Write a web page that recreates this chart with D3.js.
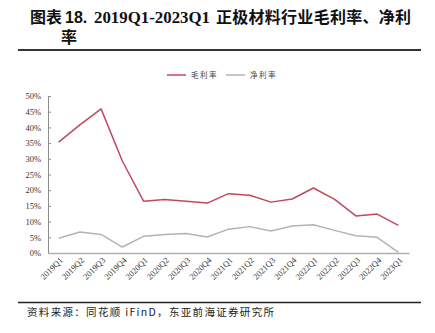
<!DOCTYPE html>
<html><head><meta charset="utf-8">
<script src="https://cdn.jsdelivr.net/npm/d3@7"></script>
<style>body{margin:0;background:#fff}svg{display:block}</style>
</head><body>
<script>
const categories = ["2019Q1","2019Q2","2019Q3","2019Q4","2020Q1","2020Q2","2020Q3","2020Q4","2021Q1","2021Q2","2021Q3","2021Q4","2022Q1","2022Q2","2022Q3","2022Q4","2023Q1"];
const grossMargin = [35.3, 40.8, 45.9, 29.3, 16.5, 17.0, 16.5, 15.9, 18.9, 18.4, 16.2, 17.2, 20.7, 17.1, 11.8, 12.4, 8.8];
const netMargin = [4.7, 6.7, 5.9, 1.9, 5.3, 5.9, 6.2, 5.1, 7.6, 8.4, 7.0, 8.6, 9.0, 7.2, 5.5, 5.0, 0.2];
const yTicks = [0,5,10,15,20,25,30,35,40,45,50];
const seriesNames = ["毛利率","净利率"];
const seriesColors = ["#bf4a5e","#b3b3b3"];

const W=435,H=333;
const svg=d3.select("body").append("svg").attr("width",W).attr("height",H);
const cjk="'Noto Sans CJK SC', sans-serif";
const serif="'Liberation Serif','DejaVu Serif',serif";

// Title
const tg=svg.append("g").attr("fill","#111").attr("font-weight","bold");
tg.append("text").attr("x",30).attr("y",23).attr("font-family",cjk).attr("font-size",16).text("图表");
tg.append("text").attr("x",65).attr("y",23).attr("font-family","'Liberation Sans',Arial,sans-serif").attr("font-size",16).text("18.");
tg.append("text").attr("x",94).attr("y",23).attr("font-family",serif).attr("font-size",16).attr("textLength",116).attr("lengthAdjust","spacingAndGlyphs").text("2019Q1-2023Q1");
tg.append("text").attr("x",216).attr("y",23).attr("font-family",cjk).attr("font-size",16).attr("textLength",195).text("正极材料行业毛利率、净利");
tg.append("text").attr("transform","translate(61,43)").attr("font-family",cjk).attr("font-size",16).text("率");
svg.append("line").attr("x1",18).attr("x2",421).attr("y1",50).attr("y2",50).attr("stroke","#333").attr("stroke-width",2);

// Scales
const x=d3.scaleBand().domain(categories).range([48,409]);
const y=d3.scaleLinear().domain([0,50]).range([253,96]);

// Y axis
const ya=svg.append("g").attr("transform","translate(48,0)")
  .call(d3.axisLeft(y).tickValues(yTicks).tickSize(-3).tickPadding(7).tickFormat(d=>d+"%"));
ya.select(".domain").attr("stroke","#8c8c8c");
ya.selectAll(".tick line").attr("stroke","#8c8c8c");
ya.selectAll("text").attr("font-family",serif).attr("font-size",8.5).attr("fill","#333");

// X axis
const xa=svg.append("g").attr("transform","translate(0,253)")
  .call(d3.axisBottom(x).tickSize(0).tickSizeOuter(0).tickFormat(""));
xa.select(".domain").attr("stroke","#b0b0b0").attr("stroke-width",1.5);
svg.append("g").selectAll("text").data(categories).join("text")
  .attr("transform",d=>`translate(${x(d)+x.bandwidth()/2+3},259) rotate(-45)`)
  .attr("text-anchor","end").attr("dy","0.3em")
  .attr("font-family",serif).attr("font-size",8.5).attr("fill","#333").text(d=>d);

// Lines
const series=[grossMargin,netMargin];
const line=d3.line().x((d,i)=>x(categories[i])+x.bandwidth()/2).y(d=>y(d));
series.forEach((s,k)=>{
  svg.append("path").datum(s).attr("d",line).attr("fill","none")
    .attr("stroke",seriesColors[k]).attr("stroke-width",1.5).attr("stroke-linejoin","round");
});

// Legend
const lx=[167,226];
seriesNames.forEach((n,k)=>{
  svg.append("line").attr("x1",lx[k]).attr("x2",lx[k]+19).attr("y1",75).attr("y2",75)
    .attr("stroke",seriesColors[k]).attr("stroke-width",1.5);
  svg.append("text").attr("x",lx[k]+24).attr("y",75).attr("dy","0.35em")
    .attr("font-family",cjk).attr("font-size",7.5).attr("letter-spacing",1.5).attr("fill","#444").text(n);
});

// Footer
svg.append("line").attr("x1",18).attr("x2",421).attr("y1",302.5).attr("y2",302.5).attr("stroke","#222").attr("stroke-width",1.6);
svg.append("text").attr("x",27).attr("y",315.5).attr("font-family",cjk).attr("font-size",10.5).attr("textLength",247).attr("fill","#222").text("资料来源：同花顺 iFinD，东亚前海证券研究所");
</script>
</body></html>
